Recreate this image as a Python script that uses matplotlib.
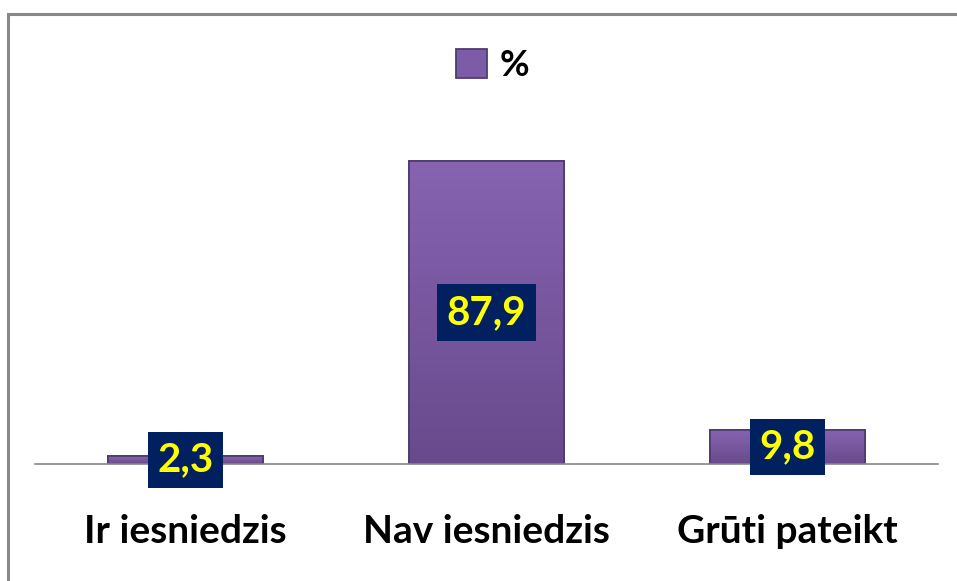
import numpy as np
import matplotlib.pyplot as plt
from matplotlib.patches import Rectangle
from matplotlib.colors import LinearSegmentedColormap

categories = ['Ir iesniedzis', 'Nav iesniedzis', 'Grūti pateikt']
values = [2.3, 87.9, 9.8]
value_labels = ['2,3', '87,9', '9,8']
series_name = '%'

plt.rcParams['font.family'] = ['Lato', 'DejaVu Sans']

fig = plt.figure(figsize=(9.57, 5.81), dpi=100)
ax = fig.add_axes([0.0366, 0.2014, 0.9434, 0.5938])

bars = ax.bar(range(len(values)), values, width=0.513, color='#7D5BA6',
              edgecolor='#4E3D70', linewidth=1.3, label=series_name, zorder=2)

# vertical shading like the office bevel fill
grad = LinearSegmentedColormap.from_list('purp', ['#684A8C', '#8763B1'])
ramp = np.linspace(0, 1, 256).reshape(-1, 1)
for b in bars:
    x0, w, h = b.get_x(), b.get_width(), b.get_height()
    im = ax.imshow(ramp, cmap=grad, origin='lower', aspect='auto',
                   extent=(x0, x0 + w, 0, h), zorder=2.1)
    im.set_clip_path(b)
    ax.add_patch(Rectangle((x0, 0), w, h, fill=False, edgecolor='#4E3D70',
                           linewidth=1.3, zorder=2.2))

for b, lab in zip(bars, value_labels):
    ax.text(b.get_x() + b.get_width() / 2, b.get_height() / 2, lab,
            ha='center', va='center', fontsize=29, fontweight='bold',
            color='#FFFF00', zorder=3,
            bbox=dict(boxstyle='square,pad=0.24', facecolor='#002060',
                      edgecolor='none'))

ax.set_xlim(-0.5, len(values) - 0.5)
ax.set_ylim(0, 100)
ax.set_yticks([])
ax.set_xticks(range(len(categories)))
ax.set_xticklabels(categories, fontsize=28, fontweight='bold')
ax.tick_params(axis='x', length=0, pad=36)
for s in ['top', 'right', 'left']:
    ax.spines[s].set_visible(False)
ax.spines['bottom'].set_color('#888888')
ax.spines['bottom'].set_linewidth(1.2)
ax.patch.set_alpha(0)

leg = fig.legend(loc='center', bbox_to_anchor=(0.515, 0.887), frameon=False,
                 prop={'size': 26, 'weight': 'bold'}, handlelength=0.85,
                 handleheight=0.85, handletextpad=0.35)
leg.legend_handles[0].set_facecolor('#7D5BA6')

# outer frame, cut off at the right and bottom edge like the original
fig.patches.append(Rectangle((8 / 957, -0.05), 1.0, 1 - 14 / 581 + 0.05,
                             transform=fig.transFigure, fill=False,
                             edgecolor='#888888', linewidth=2.2))

fig.savefig('out.png', dpi=100)
